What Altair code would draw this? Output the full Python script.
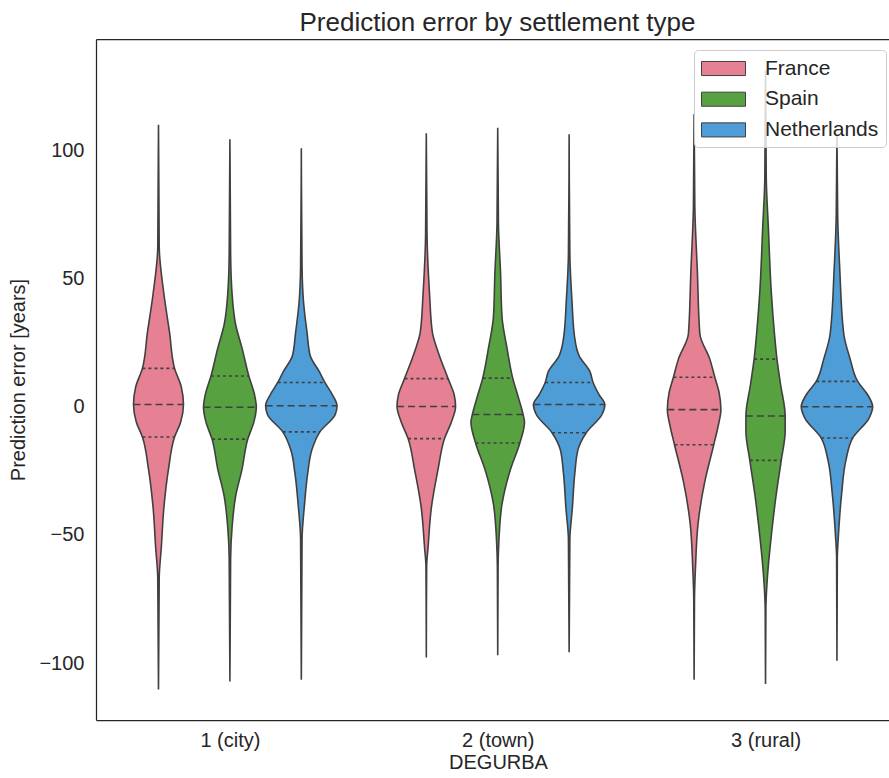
import altair as alt
import numpy as np
import pandas as pd

CATEGORIES = ["1 (city)", "2 (town)", "3 (rural)"]
COUNTRIES = ["France", "Spain", "Netherlands"]
COLORS = ["#e68193", "#58a141", "#4e9dd7"]
Y_TICKS = [-100, -50, 0, 50, 100]

# Violin profiles: value [years] and relative half-width (1 = widest)
FR_CITY_Y = [110.0, 62.5, 44.2, 29.0, 15.0, 7.7, 0.9, -6.0, -11.8, -24.3, -39.5, -54.7, -66.9, -110.3]
FR_CITY_W = [0, .02, .15, .31, .45, .64, .70, .62, .45, .28, .15, .08, .02, 0]
FR_CITY_Q = [15.0, 0.9, -11.8]

ES_CITY_Y = [104.4, 59.5, 44.2, 32.1, 22.9, 12.0, 4.7, -0.2, -6.0, -12.6, -24.3, -34.9, -47.1, -59.3, -107.2]
ES_CITY_W = [0, .02, .06, .16, .34, .53, .69, .74, .67, .50, .34, .16, .06, .02, 0]
ES_CITY_Q = [12.0, -0.2, -12.6]

NL_CITY_Y = [100.9, 54.9, 41.2, 29.0, 19.9, 13.8, 9.5, 4.7, 0.4, -3.0, -9.8, -16.6, -25.8, -38.0, -51.7, -106.5]
NL_CITY_W = [0, .02, .06, .16, .25, .50, .66, .87, 1.0, .95, .52, .30, .18, .09, .02, 0]
NL_CITY_Q = [9.5, 0.4, -9.8]

FR_TOWN_Y = [106.7, 67.1, 44.2, 29.0, 21.4, 11.0, 4.7, 0.1, -6.0, -12.4, -24.3, -39.5, -54.7, -62.3, -97.8]
FR_TOWN_W = [0, .02, .09, .17, .33, .61, .78, .82, .70, .51, .33, .14, .05, .01, 0]
FR_TOWN_Q = [11.0, 0.1, -12.4]

ES_TOWN_Y = [108.9, 71.6, 51.9, 35.1, 22.9, 11.2, 3.1, -3.0, -6.0, -14.1, -24.3, -38.0, -53.2, -62.3, -96.9]
ES_TOWN_W = [0, .02, .08, .12, .26, .42, .59, .71, .75, .62, .36, .12, .03, .01, 0]
ES_TOWN_Q = [11.2, -3.0, -14.1]

NL_TOWN_Y = [106.3, 59.5, 41.2, 27.5, 19.9, 13.8, 9.5, 4.7, 0.9, -3.0, -10.1, -16.6, -25.8, -39.5, -51.7, -95.8]
NL_TOWN_W = [0, .02, .08, .15, .28, .58, .67, .84, 1.0, .92, .48, .25, .16, .09, .02, 0]
NL_TOWN_Q = [9.5, 0.9, -10.1]

FR_RURAL_Y = [114.2, 77.9, 53.2, 28.5, 18.6, 11.5, 5.5, -1.1, -7.7, -14.8, -29.1, -45.6, -62.1, -75.3, -106.5]
FR_RURAL_W = [0, .02, .09, .16, .44, .58, .70, .75, .67, .55, .30, .11, .04, .01, 0]
FR_RURAL_Q = [11.5, -1.1, -14.8]

ES_RURAL_Y = [131.3, 89.5, 69.7, 45.0, 28.5, 18.6, 8.8, -3.6, -9.4, -20.9, -34.1, -50.5, -67.0, -78.6, -108.2]
ES_RURAL_W = [0, .02, .08, .16, .25, .32, .42, .55, .55, .44, .30, .16, .05, .01, 0]
ES_RURAL_Q = [18.6, -3.6, -20.9]

NL_RURAL_Y = [106.6, 74.6, 53.2, 28.5, 18.6, 9.9, 4.7, 0.0, -4.4, -12.2, -20.9, -34.1, -50.5, -58.8, -99.1]
NL_RURAL_W = [0, .02, .08, .19, .37, .58, .86, 1.0, .90, .44, .25, .13, .04, .01, 0]
NL_RURAL_Q = [9.9, 0.0, -12.2]

PROFILES = [
    (0, 0, FR_CITY_Y, FR_CITY_W, FR_CITY_Q),
    (0, 1, ES_CITY_Y, ES_CITY_W, ES_CITY_Q),
    (0, 2, NL_CITY_Y, NL_CITY_W, NL_CITY_Q),
    (1, 0, FR_TOWN_Y, FR_TOWN_W, FR_TOWN_Q),
    (1, 1, ES_TOWN_Y, ES_TOWN_W, ES_TOWN_Q),
    (1, 2, NL_TOWN_Y, NL_TOWN_W, NL_TOWN_Q),
    (2, 0, FR_RURAL_Y, FR_RURAL_W, FR_RURAL_Q),
    (2, 1, ES_RURAL_Y, ES_RURAL_W, ES_RURAL_Q),
    (2, 2, NL_RURAL_Y, NL_RURAL_W, NL_RURAL_Q),
]

rows, qrows = [], []
for g, c, ys, ws, qs in PROFILES:
    vid = f"{g}-{c}"
    for y, w in zip(ys, ws):
        rows.append({"violin": vid, "g": g, "c": c, "country": COUNTRIES[c], "value": y, "dens": w})
    ya = np.array(ys)[::-1]
    wa = np.array(ws)[::-1]
    for i, q in enumerate(qs):
        qrows.append({"violin": vid, "g": g, "c": c, "country": COUNTRIES[c], "value": q,
                      "dens": float(np.interp(q, ya, wa)),
                      "kind": "median" if i == 1 else "quartile"})

prof = pd.DataFrame(rows)
quart = pd.DataFrame(qrows)

DODGE = 0.8 / 3
HALF = DODGE / 2
calc = dict(
    left=f"datum.g + (datum.c - 1) * {DODGE} - datum.dens * {HALF}",
    right=f"datum.g + (datum.c - 1) * {DODGE} + datum.dens * {HALF}",
)

FONT = "Liberation Sans"
TXT = "#262626"
xscale = alt.Scale(domain=[-0.5, 2.461], nice=False, zero=False)
yscale = alt.Scale(domain=[-122.2, 143.5], nice=False, zero=False)

label_expr = "[" + ",".join(f"'{c}'" for c in CATEGORIES) + "][datum.value]"

yaxis = alt.Axis(values=Y_TICKS, grid=False, ticks=False, tickSize=0, labelPadding=12,
                 labelFontSize=20, labelFont=FONT, labelColor=TXT,
                 labelExpr="replace(datum.label, '-', '\u2212')",
                 title="Prediction error [years]", titleFontSize=20, titleFont=FONT,
                 titleColor=TXT, titleFontWeight="normal", titlePadding=10,
                 domainColor=TXT, domainWidth=1.25)
xaxis = alt.Axis(values=[0, 1, 2], grid=False, ticks=False, tickSize=0, labelPadding=10,
                 labelExpr=label_expr, labelFontSize=20, labelFont=FONT, labelColor=TXT,
                 title="DEGURBA", titleFontSize=20, titleFont=FONT, titleColor=TXT,
                 titleFontWeight="normal", titlePadding=2, titleX=402,
                 domainColor=TXT, domainWidth=1.25)
top_axis = alt.Axis(orient="top", labels=False, ticks=False, grid=False, title=None,
                    domainColor=TXT, domainWidth=1.25)

legend = alt.Legend(title=None, orient="none", legendX=598, legendY=11, zindex=1,
                    fillColor="rgba(255,255,255,0.8)", strokeColor="#cccccc", cornerRadius=4,
                    padding=7, labelFontSize=21, labelFont=FONT, labelColor=TXT,
                    symbolType="M-1,-0.64H3V0.64H-1Z", symbolSize=484,
                    symbolStrokeColor="#404040", symbolStrokeWidth=1, symbolOpacity=1,
                    rowPadding=8.7, labelOffset=41)

violins = alt.Chart(prof).transform_calculate(**calc).mark_area(
    orient="horizontal", interpolate="monotone", stroke="#404040", strokeWidth=1.6,
    fillOpacity=1
).encode(
    y=alt.Y("value:Q", scale=yscale, axis=yaxis),
    x=alt.X("left:Q", scale=xscale, axis=xaxis),
    x2="right:Q",
    color=alt.Color("country:N", scale=alt.Scale(domain=COUNTRIES, range=COLORS), legend=legend),
    detail="violin:N",
)

medians = alt.Chart(quart).transform_filter("datum.kind == 'median'").transform_calculate(**calc).mark_rule(
    color="#404040", strokeWidth=1.6, strokeDash=[7, 4]
).encode(
    y=alt.Y("value:Q", scale=yscale, axis=yaxis),
    x=alt.X("left:Q", scale=xscale, axis=top_axis),
    x2="right:Q",
)

quartiles = alt.Chart(quart).transform_filter("datum.kind == 'quartile'").transform_calculate(**calc).mark_rule(
    color="#404040", strokeWidth=1.6, strokeDash=[3, 3]
).encode(
    y=alt.Y("value:Q", scale=yscale, axis=yaxis),
    x=alt.X("left:Q", scale=xscale, axis=None),
    x2="right:Q",
)

chart = alt.layer(violins, medians, quartiles).resolve_axis(x="independent").properties(
    width=793, height=681,
    title=alt.TitleParams("Prediction error by settlement type", fontSize=26, font=FONT,
                          color=TXT, fontWeight="normal", anchor="middle", dx=5, offset=3),
    autosize=alt.AutoSizeParams(type="none"),
    padding={"left": 96, "top": 39, "right": 0, "bottom": 58},
    background="white",
).configure_view(stroke=None)

chart.save("out.html", embed_options={"renderer": "svg", "actions": False})
